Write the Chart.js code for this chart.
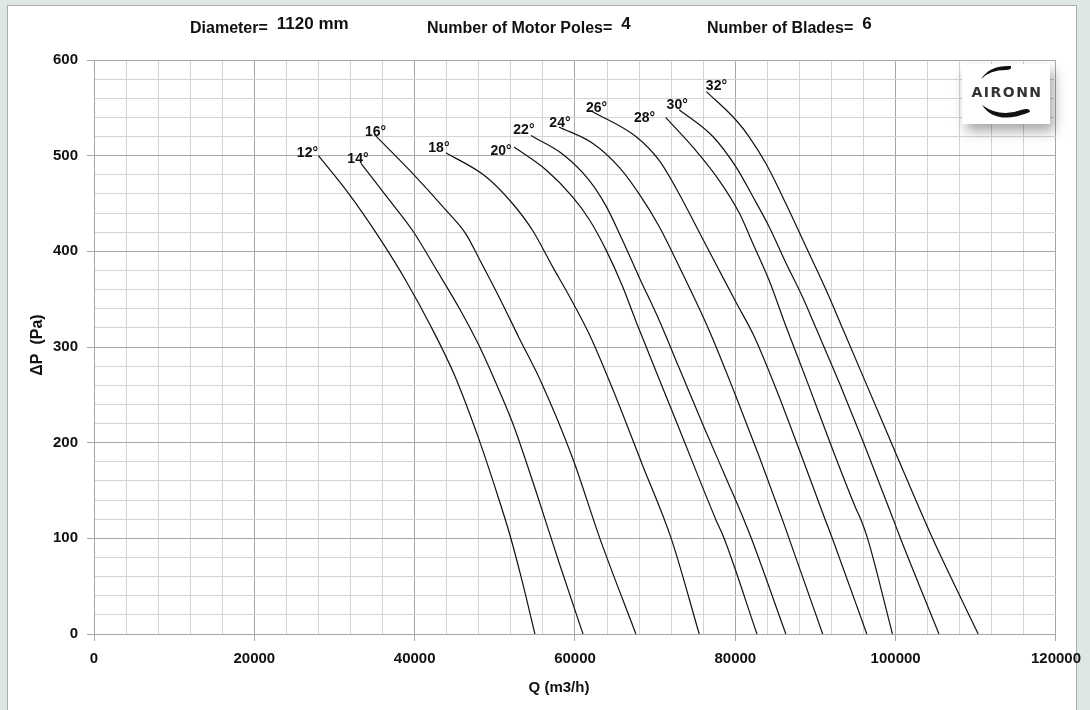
<!DOCTYPE html>
<html>
<head>
<meta charset="utf-8">
<script src="https://cdn.jsdelivr.net/npm/chart.js@4.4.1/dist/chart.umd.min.js"></script>
<style>
  html, body { margin: 0; padding: 0; background: #dfe7e3; }
  #wrap { position: absolute; left: 0; top: 0; width: 1090px; height: 710px; }
</style>
</head>
<body>
<div id="wrap"><canvas id="c" width="1090" height="710"></canvas></div>
<script>
// ---- Data (Q in m3/h, dP in Pa) ----
const bladeAngles = ['12°', '14°', '16°', '18°', '20°', '22°', '24°', '26°', '28°', '30°', '32°'];

const q12 = [28000, 31800, 35600, 39000, 42000, 45000, 48000, 50000, 51900, 53450, 55000];
const p12 = [500, 460, 414, 368, 322, 270, 204, 154, 103, 54, 0];

const q14 = [33300, 36800, 39800, 42700, 45600, 48000, 50000, 52200, 55100, 58000, 61000];
const p14 = [492, 454, 421, 381, 340, 302, 265, 221, 150, 75, 0];

const q16 = [35000, 39800, 43900, 46400, 48000, 50600, 53000, 55800, 59700, 63100, 67600];
const p16 = [522, 481, 443, 418, 393, 351, 310, 263, 184, 100, 0];

const q18 = [43900, 48900, 52200, 54700, 57200, 59500, 61800, 64700, 68400, 72000, 75500];
const p18 = [503, 478, 450, 422, 384, 350, 313, 256, 177, 100, 0];

const q20 = [52400, 56400, 59700, 61800, 63900, 65900, 67600, 72600, 77600, 78600, 82700];
const p20 = [509, 485, 457, 433, 401, 364, 327, 223, 119, 100, 0];

const q22 = [54500, 58400, 61800, 63900, 65900, 68000, 70500, 73000, 76000, 79000, 81100, 82000, 86300];
const p22 = [521, 502, 474, 447, 412, 373, 328, 278, 218, 160, 119, 100, 0];

const q24 = [58000, 62200, 65500, 68000, 70500, 73000, 76700, 80000, 83000, 85900, 86700, 90900];
const p24 = [530, 513, 488, 460, 426, 384, 318, 250, 185, 119, 100, 0];

const q26 = [62200, 67600, 70500, 73000, 75500, 78000, 80200, 82300, 85000, 88000, 91100, 92100, 96400];
const p26 = [546, 520, 495, 460, 420, 380, 345, 312, 258, 192, 122, 100, 0];

const q28 = [71300, 74700, 78000, 80500, 82200, 84200, 86300, 89000, 92000, 95000, 95700, 96500, 99600];
const p28 = [540, 509, 474, 440, 408, 370, 322, 263, 196, 132, 119, 100, 0];

const q30 = [73000, 77200, 80100, 82200, 84200, 86300, 88400, 90100, 93000, 96000, 99600, 100600, 105400];
const p30 = [548, 520, 488, 457, 426, 388, 352, 319, 262, 200, 122, 100, 0];

const q32 = [76400, 80100, 81700, 83800, 86300, 88800, 91300, 93400, 96000, 99000, 102000, 104600, 110300];
const p32 = [567, 537, 520, 492, 450, 405, 360, 319, 268, 209, 150, 100, 0];

const xTicks = [0, 20000, 40000, 60000, 80000, 100000, 120000];
const yTicks = [0, 100, 200, 300, 400, 500, 600];

const headerLabels = ['Diameter=', 'Number of Motor Poles=', 'Number of Blades='];
const headerValues = ['1120 mm', '4', '6'];

// ---- Build datasets ----
const seriesQ = [q12, q14, q16, q18, q20, q22, q24, q26, q28, q30, q32];
const seriesP = [p12, p14, p16, p18, p20, p22, p24, p26, p28, p30, p32];
const datasets = bladeAngles.map((name, i) => ({
  label: name,
  data: seriesQ[i].map((q, j) => ({ x: q, y: seriesP[i][j] })),
  borderColor: '#111111',
  borderWidth: 1.2,
  pointRadius: 0,
  fill: false,
  cubicInterpolationMode: 'monotone'
}));

const FONT = "'Liberation Sans', Arial, sans-serif";

const bgPlugin = {
  id: 'bg',
  beforeDraw(chart) {
    const ctx = chart.ctx;
    ctx.save();
    ctx.fillStyle = '#dfe7e3';
    ctx.fillRect(0, 0, 1090, 710);
    ctx.fillStyle = '#ffffff';
    ctx.fillRect(7, 5, 1070, 705);
    ctx.strokeStyle = '#a8acaa';
    ctx.lineWidth = 1;
    ctx.strokeRect(7.5, 5.5, 1069, 710);
    ctx.restore();
  }
};

const annoPlugin = {
  id: 'anno',
  afterDatasetsDraw(chart, args, opts) {
    const ctx = chart.ctx;
    const xs = chart.scales.x, ys = chart.scales.y;
    ctx.save();
    // curve labels next to the first point of each curve
    ctx.fillStyle = '#111';
    ctx.font = "bold 14px " + FONT;
    ctx.textAlign = 'center';
    ctx.textBaseline = 'alphabetic';
    chart.data.datasets.forEach((ds, i) => {
      const p = ds.data[0];
      const px = xs.getPixelForValue(p.x);
      const py = ys.getPixelForValue(p.y);
      ctx.fillText(ds.label, px + opts.dx[i], py + opts.dy[i]);
    });
    // logo
    const lx = 962, ly = 64, lw = 88, lh = 60;
    ctx.save();
    ctx.shadowColor = 'rgba(0,0,0,0.35)';
    ctx.shadowBlur = 12;
    ctx.shadowOffsetX = 4;
    ctx.shadowOffsetY = 7;
    ctx.fillStyle = '#ffffff';
    ctx.fillRect(lx, ly, lw, lh);
    ctx.restore();
    ctx.fillStyle = '#333';
    ctx.font = "bold 14px 'DejaVu Sans', sans-serif";
    ctx.letterSpacing = '1.5px';
    ctx.textAlign = 'center';
    ctx.textBaseline = 'middle';
    ctx.fillText('AIRONN', lx + lw / 2 + 1, ly + 29);
    ctx.letterSpacing = '0px';
    ctx.fillStyle = '#111';
    // top swoosh
    ctx.beginPath();
    ctx.moveTo(981, 79);
    ctx.quadraticCurveTo(990, 65, 1011, 66);
    ctx.quadraticCurveTo(1012, 70, 1006, 70);
    ctx.quadraticCurveTo(990, 70, 981, 79);
    ctx.fill();
    // bottom swoosh
    ctx.beginPath();
    ctx.moveTo(982, 105);
    ctx.quadraticCurveTo(996, 126, 1030, 112);
    ctx.quadraticCurveTo(1030, 107, 1021, 110);
    ctx.quadraticCurveTo(1000, 118, 982, 105);
    ctx.fill();
    ctx.restore();
  },
  afterDraw(chart) {
    const ctx = chart.ctx;
    const ys = chart.scales.y;
    ctx.save();
    ctx.fillStyle = '#111';
    // header
    const hx = [190, 427, 707];
    headerLabels.forEach((lab, i) => {
      ctx.font = "bold 16px " + FONT;
      ctx.textAlign = 'left';
      ctx.textBaseline = 'alphabetic';
      ctx.fillText(lab, hx[i], 33);
      const w = ctx.measureText(lab).width;
      ctx.font = "bold 17px " + FONT;
      ctx.fillText(headerValues[i], hx[i] + w + 9, 29);
    });
    // axis titles
    ctx.font = "bold 15px " + FONT;
    ctx.textAlign = 'center';
    ctx.textBaseline = 'middle';
    ctx.fillText('Q (m3/h)', 559, 688);
    ctx.font = "bold 16px " + FONT;
    ctx.translate(38, (ys.top + ys.bottom) / 2 - 2);
    ctx.rotate(-Math.PI / 2);
    ctx.fillText('ΔP  (Pa)', 0, 0);
    ctx.restore();
  }
};

new Chart(document.getElementById('c'), {
  type: 'line',
  data: { datasets },
  plugins: [bgPlugin, annoPlugin],
  options: {
    responsive: false,
    animation: false,
    devicePixelRatio: 1,
    layout: { padding: { left: 0, right: 34, top: 60, bottom: 0 } },
    plugins: {
      legend: { display: false },
      tooltip: { enabled: false },
      anno: {
        dx: [-11, -3, 1, -7, -13, -7, 1, 4, -21, -2, 10],
        dy: [1, 0, 1, -1, 8, -2, 0, 0, 5, -1, -2]
      }
    },
    scales: {
      x: {
        type: 'linear',
        min: 0, max: 120000,
        afterFit(s) { s.height = 76; },
        afterBuildTicks(s) {
          const t = [];
          for (let v = 0; v <= 120000; v += 4000) t.push({ value: v });
          s.ticks = t;
        },
        ticks: {
          autoSkip: false,
          maxRotation: 0,
          padding: 9,
          color: '#111',
          font: { family: FONT, size: 15, weight: 'bold' },
          callback: v => xTicks.includes(v) ? String(v) : ''
        },
        grid: {
          color: c => (c.tick && c.tick.value % 20000 === 0) ? '#a6a6a6' : '#d4d4d4',
          tickColor: c => (c.tick && c.tick.value % 20000 === 0) ? '#a6a6a6' : 'rgba(0,0,0,0)',
          tickLength: 7,
          lineWidth: 1
        },
        border: { color: '#a6a6a6' }
      },
      y: {
        type: 'linear',
        min: 0, max: 600,
        afterFit(s) { s.width = 94; },
        afterBuildTicks(s) {
          const t = [];
          for (let v = 0; v <= 600; v += 20) t.push({ value: v });
          s.ticks = t;
        },
        ticks: {
          autoSkip: false,
          padding: 9,
          color: '#111',
          font: { family: FONT, size: 15, weight: 'bold' },
          callback: v => yTicks.includes(v) ? String(v) : ''
        },
        grid: {
          color: c => (c.tick && c.tick.value % 100 === 0) ? '#a6a6a6' : '#d4d4d4',
          tickColor: c => (c.tick && c.tick.value % 100 === 0) ? '#a6a6a6' : 'rgba(0,0,0,0)',
          tickLength: 7,
          lineWidth: 1
        },
        border: { color: '#a6a6a6' }
      }
    }
  }
});
</script>
</body>
</html>
